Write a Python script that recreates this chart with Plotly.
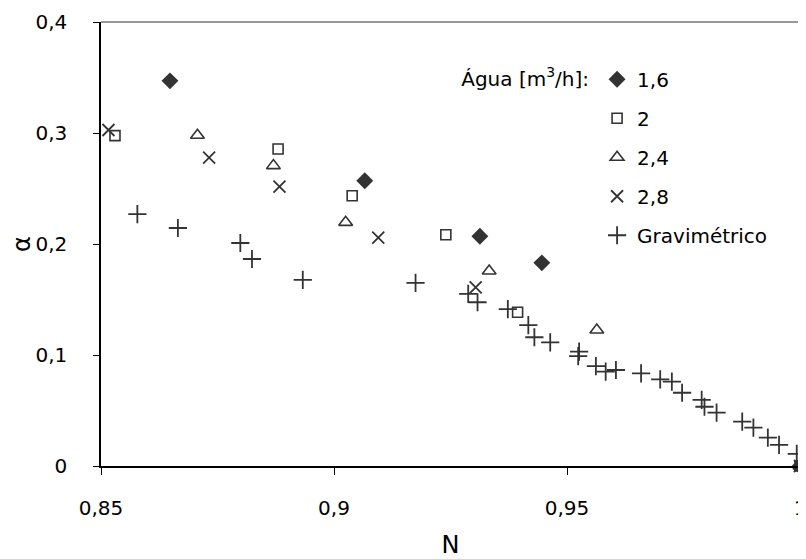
import plotly.graph_objects as go

# Água [m3/h] series (N, alpha)
n_16 = [0.8648, 0.9066, 0.9313, 0.9446, 1.0]
a_16 = [0.347, 0.257, 0.207, 0.183, 0.0]

n_20 = [0.853, 0.888, 0.9039, 0.924, 0.9394, 1.0]
a_20 = [0.2976, 0.2856, 0.2435, 0.2084, 0.1385, 0.0]

n_24 = [0.8707, 0.887, 0.9025, 0.9333, 0.9564, 1.0]
a_24 = [0.298, 0.2706, 0.2195, 0.1757, 0.1225, 0.0]

n_28 = [0.8516, 0.8732, 0.8883, 0.9095, 0.9304, 1.0]
a_28 = [0.3027, 0.2778, 0.2516, 0.2057, 0.161, 0.0]

n_grav = [0.8578, 0.8665, 0.8799, 0.8824, 0.8933, 0.9175, 0.9288, 0.9308,
          0.9373, 0.9417, 0.943, 0.9464, 0.9524, 0.9526, 0.9562, 0.9583,
          0.9605, 0.9659, 0.970, 0.9725, 0.9747, 0.9789, 0.9795, 0.9821,
          0.9876, 0.990, 0.9931, 0.9955, 0.9993]
a_grav = [0.227, 0.2144, 0.2009, 0.1865, 0.1676, 0.165, 0.155, 0.1475,
          0.1414, 0.127, 0.116, 0.1114, 0.099, 0.103, 0.090, 0.085,
          0.0865, 0.0835, 0.078, 0.076, 0.066, 0.0595, 0.0534, 0.048,
          0.040, 0.0345, 0.0255, 0.019, 0.011]

ink = '#333333'
font = 'DejaVu Sans, Liberation Sans, Arial, sans-serif'

fig = go.Figure()

series = [
    ('1,6', n_16, a_16, dict(symbol='diamond', size=13, color=ink)),
    ('2', n_20, a_20, dict(symbol='square-open', size=10, color=ink, line=dict(width=1.6))),
    ('2,4', n_24, a_24, dict(symbol='triangle-up-open', size=12, color=ink, line=dict(width=1.6))),
    ('2,8', n_28, a_28, dict(symbol='x-thin-open', size=12, color=ink, line=dict(width=1.8, color=ink))),
    ('Gravimétrico', n_grav, a_grav, dict(symbol='cross-thin-open', size=13, color=ink, line=dict(width=1.8, color=ink))),
]
for i, (name, xs, ys, mk) in enumerate(series):
    fig.add_trace(go.Scatter(
        x=xs, y=ys, mode='markers', name=name, marker=mk,
        legendgroup=f'g{i}', cliponaxis=False,
    ))

# page body adds an 8px offset, so the figure is a little smaller than the window
fig.update_layout(
    width=798, height=551,
    margin=dict(l=93, r=6, t=14, b=93, autoexpand=False),
    plot_bgcolor='white', paper_bgcolor='white',
    separators=',.',
    font=dict(family=font, size=20, color='black'),
    showlegend=True,
    legend=dict(
        x=0.5125, y=0.915, xanchor='left', yanchor='top',
        bgcolor='rgba(0,0,0,0)',
        title=dict(text='Água [m<sup>3</sup>/h]:', side='left', font=dict(size=20)),
        itemwidth=30, tracegroupgap=10,
        font=dict(size=20),
    ),
    xaxis=dict(
        range=[0.85, 1.0], dtick=0.05, showgrid=False, zeroline=False,
        showline=True, linecolor='black', linewidth=1.5,
        ticks='outside', ticklen=7, tickcolor='black',
        ticklabelstandoff=16, ticklabeloverflow='allow', automargin=False,
        title=dict(text='N', standoff=37),
    ),
    yaxis=dict(
        range=[0, 0.4], dtick=0.1, showgrid=False, zeroline=False,
        showline=True, linecolor='black', linewidth=1.5,
        ticks='outside', ticklen=6, tickcolor='black',
        ticklabelstandoff=22, ticklabeloverflow='allow', automargin=False,
        title=dict(text='α', standoff=4),
    ),
    shapes=[
        dict(type='line', xref='paper', yref='paper', x0=0, x1=1, y0=1, y1=1,
             line=dict(color='#999999', width=2)),
        dict(type='line', xref='paper', yref='paper', x0=1, x1=1, y0=0, y1=1,
             line=dict(color='#999999', width=2)),
    ],
)

fig.write_html("out.html")
